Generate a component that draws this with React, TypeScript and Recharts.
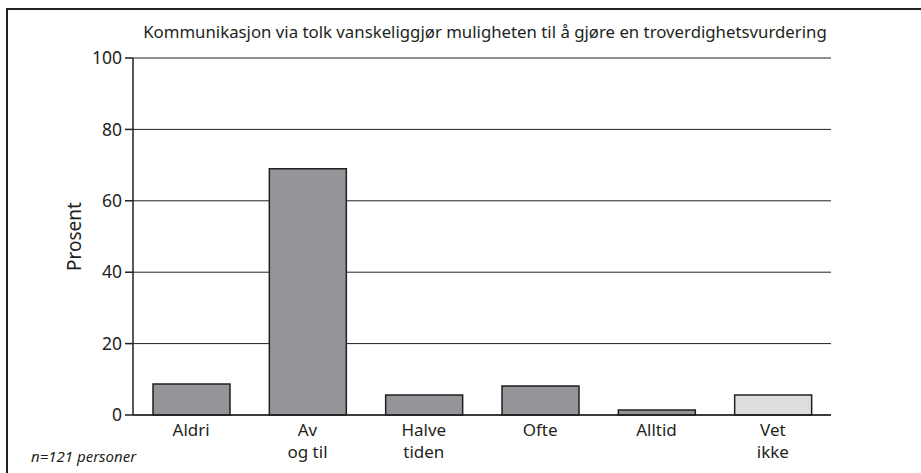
import React from 'react';
import { BarChart, Bar, XAxis, YAxis, CartesianGrid, Cell } from 'recharts';

// svaralternativer og prosentandeler
const categories = ['Aldri', 'Av\nog til', 'Halve\ntiden', 'Ofte', 'Alltid', 'Vet\nikke'];
const percents = [8.7, 69, 5.6, 8.1, 1.4, 5.6];
const yTicks = [0, 20, 40, 60, 80, 100];

const title = 'Kommunikasjon via tolk vanskeliggjør muligheten til å gjøre en troverdighetsvurdering';
const note = 'n=121 personer';

const data = categories.map((name, i) => ({ name, value: percents[i] }));

const FONT = '"Noto Sans", "Open Sans", sans-serif';
const INK = '#231f20';

const CategoryTick = (props: any) => {
  const { x, y, payload } = props;
  const lines = String(payload.value).split('\n');
  return (
    <g>
      {lines.map((l, i) => (
        <text
          key={i}
          x={x}
          y={y + 13 + i * 22}
          textAnchor="middle"
          fill={INK}
          fontSize={17}
          fontFamily={FONT}
        >
          {l}
        </text>
      ))}
    </g>
  );
};

const App: React.FC = () => {
  return (
    <div style={{ position: 'absolute', left: 0, top: 0, width: 921, height: 473, overflow: 'hidden', background: '#fff' }}>
      <div
        style={{
          position: 'absolute',
          left: 6,
          top: 8,
          width: 960,
          height: 500,
          borderTop: `2px solid ${INK}`,
          borderLeft: `2px solid ${INK}`,
        }}
      />
      <div
        style={{
          position: 'absolute',
          left: 136,
          width: 698,
          top: 20,
          textAlign: 'center',
          fontFamily: FONT,
          fontSize: 16.8,
          color: INK,
          whiteSpace: 'nowrap',
        }}
      >
        {title}
      </div>
      <div
        style={{
          position: 'absolute',
          left: 31,
          top: 446,
          fontFamily: FONT,
          fontSize: 15,
          fontStyle: 'italic',
          color: INK,
        }}
      >
        {note}
      </div>
      <BarChart
        width={921}
        height={473}
        data={data}
        margin={{ top: 58, right: 90, bottom: 8, left: 0 }}
        style={{ position: 'absolute', left: 0, top: 0 }}
      >
        <CartesianGrid vertical={false} stroke={INK} strokeWidth={1} />
        <XAxis
          dataKey="name"
          height={50}
          interval={0}
          tickLine={false}
          axisLine={{ stroke: INK, strokeWidth: 1.5 }}
          tick={<CategoryTick />}
        />
        <YAxis
          width={133}
          domain={[0, 100]}
          ticks={yTicks}
          tickSize={8}
          tickMargin={3}
          tickLine={{ stroke: INK, strokeWidth: 1.5 }}
          axisLine={{ stroke: INK, strokeWidth: 1.5 }}
          tick={{ fill: INK, fontSize: 17.5, fontFamily: FONT }}
          label={{
            value: 'Prosent',
            angle: -90,
            position: 'insideLeft',
            offset: 74,
            style: { fill: INK, fontSize: 19, fontFamily: FONT, textAnchor: 'middle' },
          }}
        />
        <YAxis
          yAxisId="right"
          orientation="right"
          width={0}
          domain={[0, 100]}
          tick={false}
          tickLine={false}
          axisLine={{ stroke: INK, strokeWidth: 1.5 }}
        />
        <Bar dataKey="value" barSize={77} stroke={INK} strokeWidth={1.5} isAnimationActive={false}>
          {data.map((d, i) => (
            <Cell key={d.name} fill={i === data.length - 1 ? '#dcddde' : '#939598'} />
          ))}
        </Bar>
      </BarChart>
    </div>
  );
};

export default App;
